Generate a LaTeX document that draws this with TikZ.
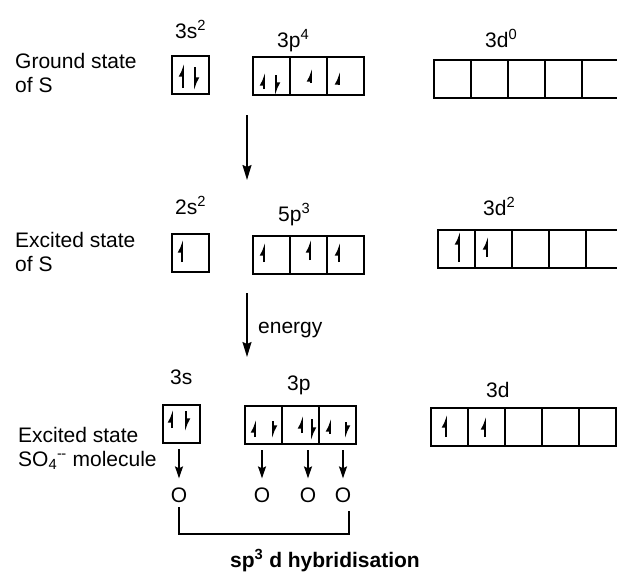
\documentclass[tikz,border=0pt]{standalone}
\usepackage{fontspec}
\setmainfont{Liberation Sans}
\usetikzlibrary{arrows.meta,positioning}
\tikzset{
  >={Stealth[length=15pt,width=9pt,inset=2pt]},
  lbl/.style={font=\fontsize{21}{24}\selectfont, inner sep=0pt},
  boldlbl/.style={font=\fontsize{21}{24}\selectfont\bfseries, inner sep=0pt},
  orb/.style={draw, line width=1.5pt, minimum width=37pt, minimum height=38pt,
    inner sep=0pt, outer sep=0pt, anchor=north west},
  eup/.style={line width=1.6pt, -{Latex[left,length=10pt,width=9pt]}},
  bigarrow/.style={line width=1.5pt, ->},
  oarrow/.style={line width=1.4pt, -{Stealth[length=12pt,width=8pt,inset=2pt]},
    shorten <=6pt, shorten >=9pt},
  bracket/.style={line width=1.4pt},
}
\begin{document}
\begin{tikzpicture}[x=1pt, y=-1pt]
\useasboundingbox (0,0) rectangle (617,571);
% ground state
\node[lbl, align=left, anchor=north west] (gstate) at (15,53) {Ground state\\of S};
\node[lbl, anchor=base west] (g3slbl) at (175,38) {3s\textsuperscript{2}};
\node[lbl, anchor=base west] (g3plbl) at (277,47) {3p\textsuperscript{4}};
\node[lbl, anchor=base west] (g3dlbl) at (485,47) {3d\textsuperscript{0}};
\node[orb] (g3s) at (172,56) {};
\node[orb] (g3p1) at (253,57) {};
\foreach \i [count=\j from 2] in {1,2} \node[orb, anchor=west, right=0pt of g3p\i] (g3p\j) {};
\node[orb] (g3d1) at (434,60) {};
\foreach \i [count=\j from 2] in {1,...,4} \node[orb, anchor=west, right=0pt of g3d\i] (g3d\j) {};
\draw[eup] (183,88) -- (183,64);
\draw[eup] (195,67) -- (195,90);
\draw[eup] (264,89) -- (264,73);
\draw[eup] (276,75) -- (276,95);
\draw[eup] (311,83) -- (311,69);
\draw[eup] (339,85) -- (339,72);
% first step
\coordinate (s1top) at (247,115);
\coordinate (s1bot) at (247,180);
\draw[bigarrow] (s1top) -- (s1bot);
% excited state
\node[lbl, align=left, anchor=north west] (estate) at (15,232) {Excited state\\of S};
\node[lbl, anchor=base west] (e2slbl) at (175,214) {2s\textsuperscript{2}};
\node[lbl, anchor=base west] (e5plbl) at (278,221) {5p\textsuperscript{3}};
\node[lbl, anchor=base west] (e3dlbl) at (483,215) {3d\textsuperscript{2}};
\node[orb] (e2s) at (172,234) {};
\node[orb] (e5p1) at (253,236) {};
\foreach \i [count=\j from 2] in {1,2} \node[orb, anchor=west, right=0pt of e5p\i] (e5p\j) {};
\node[orb] (e3d1) at (438,230) {};
\foreach \i [count=\j from 2] in {1,...,4} \node[orb, anchor=west, right=0pt of e3d\i] (e3d\j) {};
\draw[eup] (182,262) -- (182,240);
\draw[eup] (264,262) -- (264,243);
\draw[eup] (310,260) -- (310,240);
\draw[eup] (339,262) -- (339,243);
\draw[eup] (459,262) -- (459,232);
\draw[eup] (487,257) -- (487,237);
% second step
\coordinate (s2top) at (247,293);
\coordinate (s2bot) at (247,357);
\draw[bigarrow] (s2top) -- (s2bot);
\node[lbl, anchor=base west] (energy) at (258,333) {energy};
% molecule
\node[lbl, align=left, anchor=north west] (mstate) at (18,427)
  {Excited state\\SO\textsubscript{4}\textsuperscript{-\kern-0.05em-} molecule};
\node[lbl, anchor=base west] (h3slbl) at (170,384) {3s};
\node[lbl, anchor=base west] (h3plbl) at (287,390) {3p};
\node[lbl, anchor=base west] (h3dlbl) at (486,397) {3d};
\node[orb] (h3s) at (163,405) {};
\node[orb] (h3p1) at (245,406) {};
\foreach \i [count=\j from 2] in {1,2} \node[orb, anchor=west, right=0pt of h3p\i] (h3p\j) {};
\node[orb] (h3d1) at (431,408) {};
\foreach \i [count=\j from 2] in {1,...,4} \node[orb, anchor=west, right=0pt of h3d\i] (h3d\j) {};
\draw[eup] (172,428) -- (172,410);
\draw[eup] (186,411) -- (186,431);
\draw[eup] (255,437) -- (255,420);
\draw[eup] (273,421) -- (273,438);
\draw[eup] (302,433) -- (302,416);
\draw[eup] (312,419) -- (312,440);
\draw[eup] (330,434) -- (330,419);
\draw[eup] (346,422) -- (346,438);
\draw[eup] (446,437) -- (446,415);
\draw[eup] (485,437) -- (485,417);
% oxygens
\node[lbl] (o1) at (179,495) {O};
\node[lbl] (o2) at (262,495) {O};
\node[lbl] (o3) at (308,495) {O};
\node[lbl] (o4) at (343,495) {O};
\draw[oarrow] (o1 |- h3s.south) -- (o1.north);
\draw[oarrow] (o2 |- h3p1.south) -- (o2.north);
\draw[oarrow] (o3 |- h3p2.south) -- (o3.north);
\draw[oarrow] (o4 |- h3p3.south) -- (o4.north);
\coordinate (brl) at (179,507);
\coordinate (brr) at (349,511);
\coordinate (brk) at (260,534);
\draw[bracket] (brl) |- (brk) -| (brr);
\node[boldlbl, anchor=base] (hyb) at (325,567) {sp\textsuperscript{3} d hybridisation};
\end{tikzpicture}
\end{document}
